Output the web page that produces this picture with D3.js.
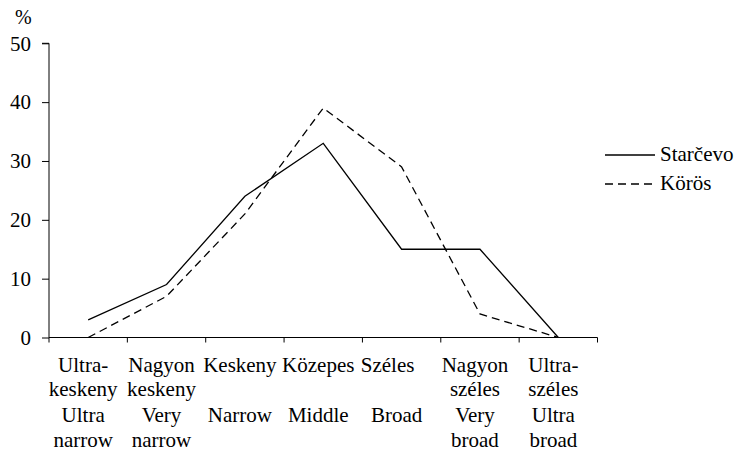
<!DOCTYPE html>
<html>
<head>
<meta charset="utf-8">
<script src="https://cdn.jsdelivr.net/npm/d3@7"></script>
<style>
  body { margin: 0; background: #fff; }
  svg text { font-family: "Liberation Serif", "Times New Roman", serif; fill: #000; }
</style>
</head>
<body>
<div id="chart"></div>
<script>
// categories (hungarian 2 lines, english 2 lines)
var catHu = [
  ["Ultra-", "keskeny"],
  ["Nagyon", "keskeny"],
  ["Keskeny", ""],
  ["Közepes", ""],
  ["Széles", ""],
  ["Nagyon", "széles"],
  ["Ultra-", "széles"]
];
var catEn = [
  ["Ultra", "narrow"],
  ["Very", "narrow"],
  ["Narrow", ""],
  ["Middle", ""],
  ["Broad", ""],
  ["Very", "broad"],
  ["Ultra", "broad"]
];
var starcevo = [3, 9, 24, 33, 15, 15, 0];
var koros = [0, 7, 21, 39, 29, 4, 0];
var yTicks = [0, 10, 20, 30, 40, 50];
var seriesNames = ["Starčevo", "Körös"];

var width = 736, height = 452;
var fs = 21;
var serif = '"Liberation Serif", "Times New Roman", serif';

var svg = d3.select("#chart")
  .append("svg")
  .attr("width", width)
  .attr("height", height);

var xScale = d3.scaleBand()
  .domain(d3.range(catHu.length))
  .range([49, 597.5]);

var yScale = d3.scaleLinear()
  .domain([0, 50])
  .range([337.5, 43.3]);

//y-axis
var yAxis = d3.axisLeft(yScale)
  .tickValues(yTicks)
  .tickSize(7)
  .tickPadding(11);
var gy = svg.append("g")
  .attr("transform", "translate(" + xScale.range()[0] + ",0)")
  .call(yAxis);
gy.attr("font-family", serif).attr("font-size", fs);
gy.select(".domain").attr("d", "M-7," + yScale(50) + "H0V" + yScale(0));
gy.selectAll("text").attr("fill", "#000");
gy.selectAll("line, path").attr("stroke", "#000").attr("stroke-width", 1);

svg.append("text")
  .attr("x", 15)
  .attr("y", 24)
  .style("font-size", "20px")
  .text("%");

//x-axis, ticks at band edges
var edges = xScale.domain().map(function(d){ return xScale(d); }).concat([xScale.range()[1]]);
var gx = svg.append("g");
gx.append("line")
  .attr("x1", xScale.range()[0]).attr("x2", xScale.range()[1])
  .attr("y1", yScale(0)).attr("y2", yScale(0))
  .attr("stroke", "#000");
gx.selectAll(".xt")
  .data(edges)
  .enter()
  .append("line")
  .attr("class", "xt")
  .attr("x1", function(d){ return d; }).attr("x2", function(d){ return d; })
  .attr("y1", yScale(0)).attr("y2", yScale(0) + 5)
  .attr("stroke", "#000");

var lineY = [372, 396, 422, 447];
var labels = gx.selectAll(".xl")
  .data(xScale.domain())
  .enter()
  .append("text")
  .attr("class", "xl")
  .attr("text-anchor", "middle")
  .style("font-size", fs + "px");
labels.each(function(i){
  var t = d3.select(this);
  var cx = xScale(i) + xScale.bandwidth() / 2 - 5;
  var lines = catHu[i].concat(catEn[i]);
  lines.forEach(function(s, k){
    if (!s) return;
    // the "Széles" label sits a bit to the left in the original
    var dx = (i == 4 && k == 0) ? -9 : 0;
    t.append("tspan").attr("x", cx + dx).attr("y", lineY[k]).text(s);
  });
});

//lines
var line = d3.line()
  .x(function(d, i){ return xScale(i) + xScale.bandwidth() / 2; })
  .y(function(d){ return yScale(d); });

svg.append("path")
  .datum(starcevo)
  .attr("fill", "none")
  .attr("stroke", "#000")
  .attr("stroke-width", 1.3)
  .attr("d", line);

svg.append("path")
  .datum(koros)
  .attr("fill", "none")
  .attr("stroke", "#000")
  .attr("stroke-width", 1.3)
  .attr("stroke-dasharray", "8,5")
  .attr("d", line);

//legend
var leg = svg.append("g");
var legY = [155, 184];
[0, 1].forEach(function(k){
  leg.append("line")
    .attr("x1", 605).attr("x2", 655)
    .attr("y1", legY[k]).attr("y2", legY[k])
    .attr("stroke", "#000")
    .attr("stroke-width", 1.3)
    .attr("stroke-dasharray", k == 1 ? "8,5" : null);
  leg.append("text")
    .attr("x", 660)
    .attr("y", legY[k] + 6)
    .style("font-size", fs + "px")
    .text(seriesNames[k]);
});
</script>
</body>
</html>
